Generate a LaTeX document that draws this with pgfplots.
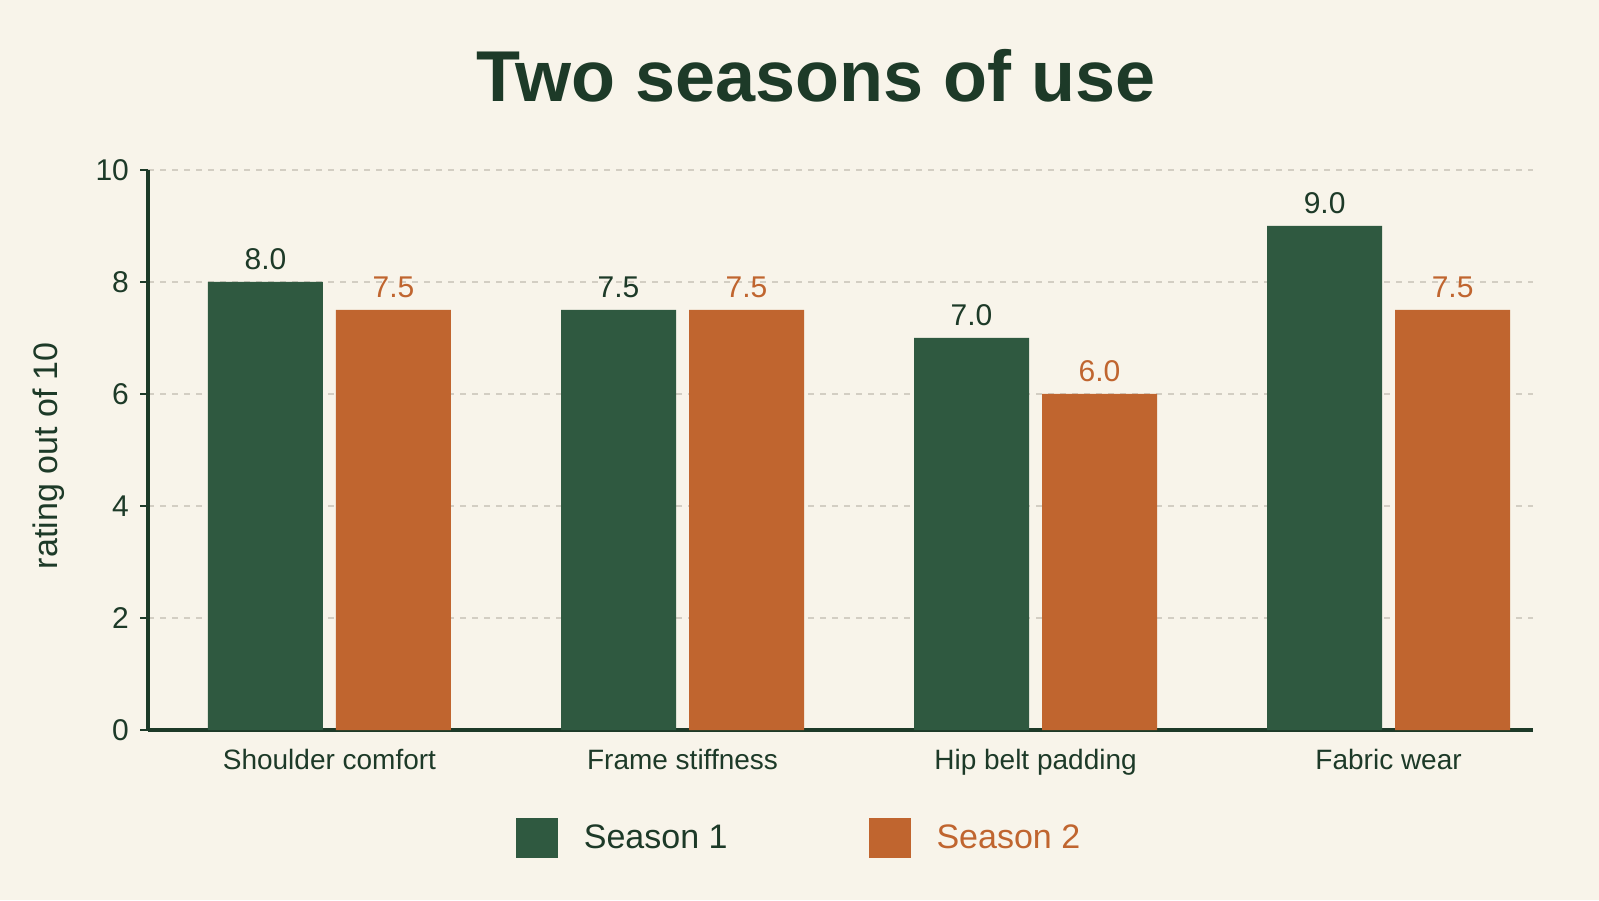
\documentclass[border=0pt]{standalone}
\usepackage{pgfplots}
\pgfplotsset{compat=1.18}
\usepackage{fontspec}
\setmainfont{Liberation Sans}
\definecolor{bg}{HTML}{F8F4EA}
\definecolor{sgreen}{HTML}{2F5940}
\definecolor{sorange}{HTML}{C0652F}
\definecolor{tgreen}{HTML}{1D3A28}
\definecolor{gridc}{HTML}{D3CEC3}
\begin{document}
\begin{tikzpicture}[x=1pt,y=1pt]
\fill[bg] (0,0) rectangle (799.5,450);
\useasboundingbox (0,0) rectangle (799.5,450);
\node[font=\fontsize{36}{40}\selectfont\bfseries, text=tgreen] at (408,412) {Two seasons of use};
\begin{axis}[
  at={(74pt,85pt)}, anchor=south west, scale only axis,
  width=692.5pt, height=280pt,
  xmin=-0.514, xmax=3.409, ymin=0, ymax=10,
  axis lines*=left,
  axis line style={tgreen, line width=1.6pt},
  xtick={0,1,2,3},
  xticklabels={Shoulder comfort, Frame stiffness, Hip belt padding, Fabric wear},
  x tick style={draw=none},
  ytick={0,2,4,6,8,10},
  y tick style={tgreen, line width=1.3pt},
  tick align=outside, major tick length=4pt,
  ymajorgrids, grid style={dashed, gridc, line width=0.6pt},
  /pgf/number format/assume math mode=true,
  yticklabel style={font=\fontsize{15}{18}\selectfont, text=tgreen, xshift=-2pt},
  xticklabel style={font=\fontsize{14}{16}\selectfont, text=tgreen, yshift=-2pt},
  ylabel={rating out of 10},
  every axis y label/.style={at={(axis description cs:-0.0715,0.49)}, rotate=90, anchor=center,
    font=\fontsize{17}{20}\selectfont, text=tgreen},
  ybar, bar width=57.5pt,
  nodes near coords={\pgfmathprintnumber[fixed, fixed zerofill, precision=1, assume math mode=true]{\pgfplotspointmeta}},
  nodes near coords style={font=\fontsize{15}{18}\selectfont, yshift=2.5pt},
  legend style={at={(0.4708,-0.193)}, anchor=center, draw=none, fill=none,
    font=\fontsize{17}{20}\selectfont, inner sep=0pt,
    /tikz/every even column/.append style={column sep=68.5pt},
    /tikz/every odd column/.append style={column sep=11pt}},
  legend columns=2,
  legend image code/.code={\fill[#1] (0pt,-10pt) rectangle (21pt,10pt);},
]
\addplot[fill=sgreen, draw=none, bar shift=-32pt, nodes near coords style={text=tgreen}]
  coordinates {(0,8.0) (1,7.5) (2,7.0) (3,9.0)};
\addlegendentry{\textcolor{tgreen}{Season 1}}
\addplot[fill=sorange, draw=none, bar shift=32pt, nodes near coords style={text=sorange}]
  coordinates {(0,7.5) (1,7.5) (2,6.0) (3,7.5)};
\addlegendentry{\textcolor{sorange}{Season 2}}
\end{axis}
\end{tikzpicture}
\end{document}
